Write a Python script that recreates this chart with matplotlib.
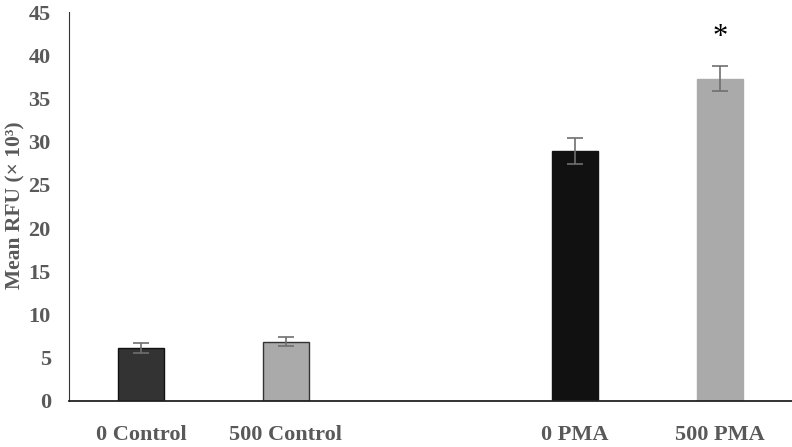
import matplotlib
matplotlib.use("Agg")
import matplotlib.pyplot as plt

categories = ["0 Control", "500 Control", "", "0 PMA", "500 PMA"]
values = [6.1, 6.86, None, 28.9, 37.3]
errors = [0.55, 0.5, None, 1.5, 1.45]
colors = ["#333333", "#aaaaaa", None, "#111111", "#aaaaaa"]
edges = ["#111111", "#333333", None, "#111111", "#aaaaaa"]
star_value = 42.0
yticks = [0, 5, 10, 15, 20, 25, 30, 35, 40, 45]

plt.rcParams['font.family'] = ['Liberation Serif', 'DejaVu Serif']
fig = plt.figure(figsize=(7.92, 4.47), dpi=100)
ax = fig.add_axes([0.087, 0.103, 0.913, 0.870])

for i, (v, e, c, ec) in enumerate(zip(values, errors, colors, edges)):
    if v is None:
        continue
    ax.bar(i, v, width=0.32, color=c, edgecolor=ec, linewidth=1.0, zorder=2)
    ax.errorbar(i, v, yerr=e, fmt='none', ecolor='#6f6f6f', elinewidth=1.2,
                capsize=6, capthick=1.2, zorder=3)

ax.text(4, star_value, "*", ha='center', va='center', fontsize=22, color='black')

ax.set_xlim(-0.5, 4.5)
ax.set_ylim(0, 45)
ax.set_yticks(yticks)
ax.set_yticklabels([str(t) for t in yticks])
ax.set_xticks(range(len(categories)))
ax.set_xticklabels(categories)
ax.tick_params(axis='both', length=0, labelsize=16, labelcolor='#595959')
ax.tick_params(axis='x', pad=17)
ax.tick_params(axis='y', pad=13)
for lab in ax.get_xticklabels() + ax.get_yticklabels():
    lab.set_fontweight('bold')
fig.text(15 / 792, 1 - 205 / 447, "Mean RFU (× 10³)", rotation=90,
         ha='center', va='center', fontsize=15.5, fontweight='bold', color='#595959')
ax.spines['top'].set_visible(False)
ax.spines['right'].set_visible(False)
ax.spines['left'].set_color('#333333')
ax.spines['bottom'].set_color('#222222')
ax.spines['bottom'].set_linewidth(1.3)

fig.savefig("out.png", dpi=100)
